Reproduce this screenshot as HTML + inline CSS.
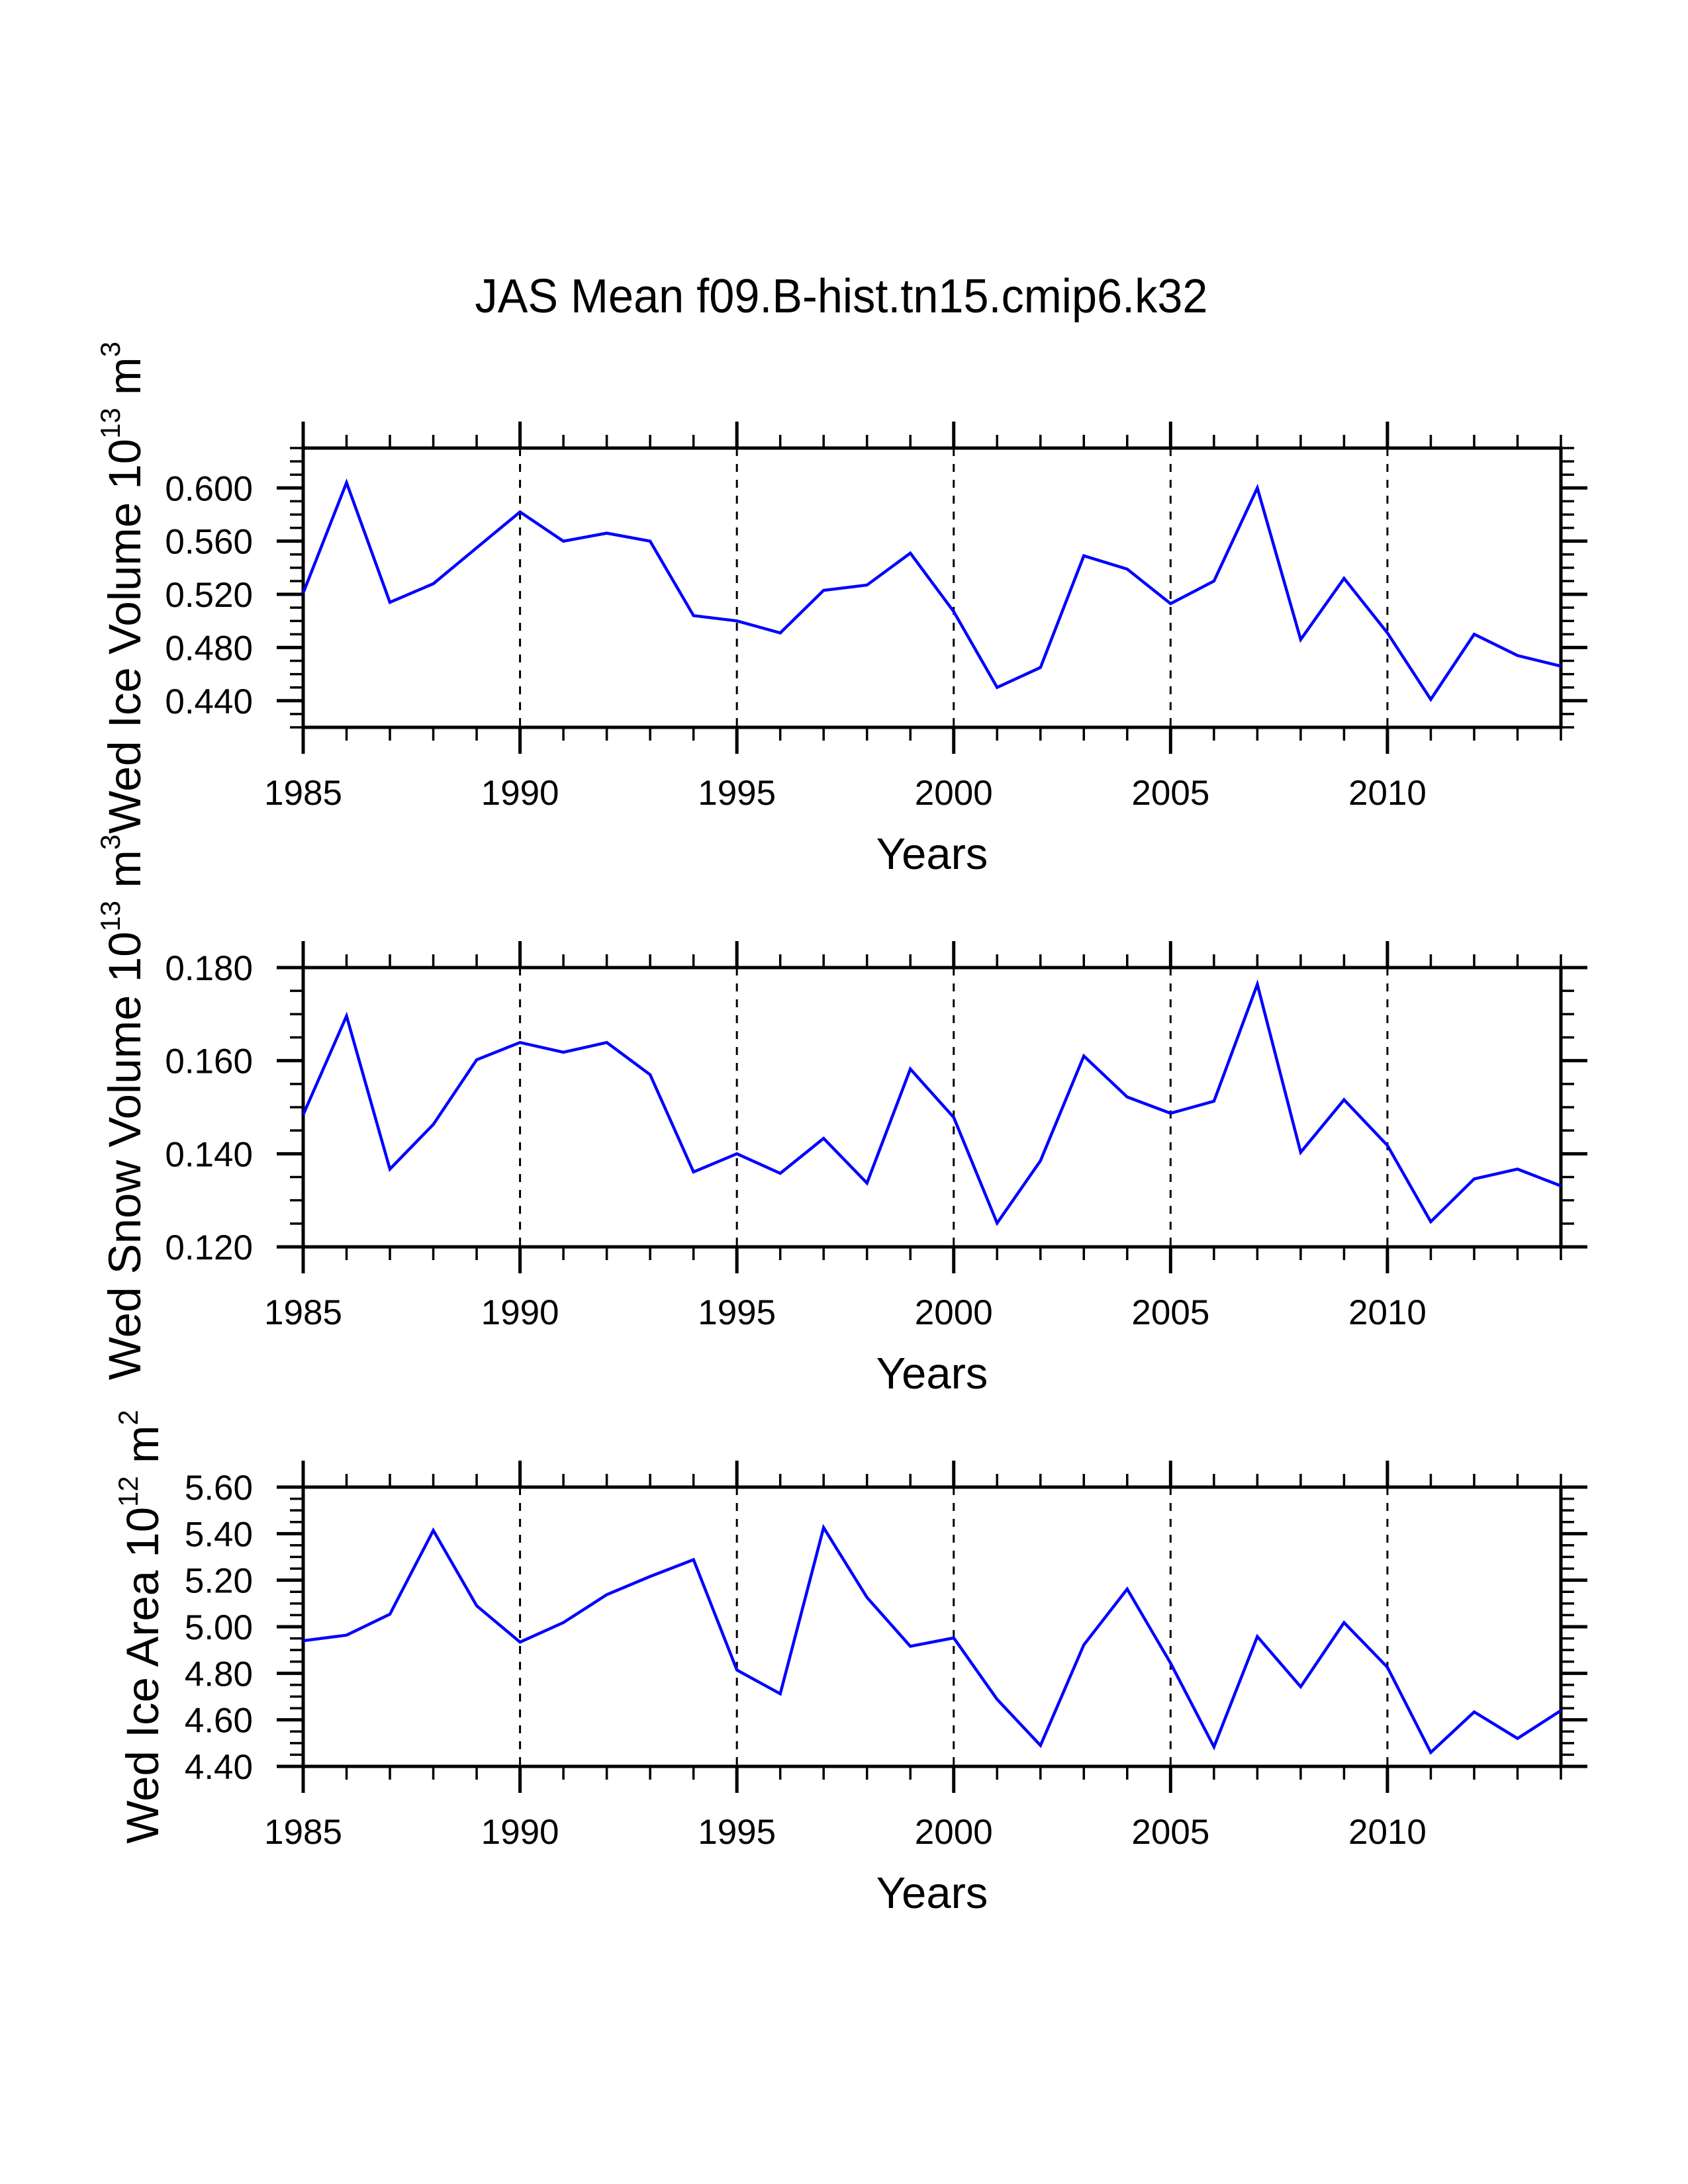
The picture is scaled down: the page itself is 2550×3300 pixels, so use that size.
<!DOCTYPE html>
<html><head><meta charset="utf-8"><title>JAS Mean f09.B-hist.tn15.cmip6.k32</title>
<style>html,body{margin:0;padding:0;background:#fff}svg{display:block}text{font-family:"Liberation Sans",Arial,sans-serif;fill:#000}</style>
</head><body>
<svg id="chart" xmlns="http://www.w3.org/2000/svg" width="2550" height="3300" viewBox="0 0 2550 3300">
<rect width="2550" height="3300" fill="#fff"/>
<text x="1271" y="472" font-size="72" text-anchor="middle" textLength="1107" lengthAdjust="spacingAndGlyphs">JAS Mean f09.B-hist.tn15.cmip6.k32</text>
</svg>
<script>
const years = [1985,1986,1987,1988,1989,1990,1991,1992,1993,1994,1995,1996,1997,1998,1999,2000,2001,2002,2003,2004,2005,2006,2007,2008,2009,2010,2011,2012,2013,2014];
const iceVolume = [0.521,0.604,0.514,0.528,0.555,0.582,0.560,0.566,0.560,0.504,0.500,0.491,0.523,0.527,0.551,0.507,0.450,0.465,0.549,0.539,0.513,0.530,0.600,0.486,0.532,0.491,0.441,0.490,0.474,0.466];
const snowVolume = [0.1484,0.1696,0.1367,0.1463,0.1602,0.1639,0.1618,0.1639,0.1570,0.1361,0.1400,0.1358,0.1433,0.1337,0.1582,0.1478,0.1251,0.1385,0.1610,0.1522,0.1487,0.1513,0.1764,0.1403,0.1516,0.1418,0.1254,0.1346,0.1367,0.1331];
const iceArea = [4.94,4.964,5.054,5.414,5.09,4.934,5.018,5.138,5.216,5.288,4.814,4.712,5.426,5.126,4.916,4.952,4.688,4.49,4.922,5.162,4.844,4.484,4.958,4.742,5.018,4.826,4.46,4.634,4.52,4.64];
const xTickLabels = ["1985","1990","1995","2000","2005","2010"];
const iceVolumeTicks = ["0.440","0.480","0.520","0.560","0.600"];
const snowVolumeTicks = ["0.120","0.140","0.160","0.180"];
const iceAreaTicks = ["4.40","4.60","4.80","5.00","5.20","5.40","5.60"];

const NS = "http://www.w3.org/2000/svg";
const svg = document.getElementById('chart');
function mk(tag, attrs, parent) {
  const e = document.createElementNS(NS, tag);
  for (const k in attrs) e.setAttribute(k, attrs[k]);
  (parent || svg).appendChild(e);
  return e;
}
const L = 458, R = 2358, H = 422;
const xMin = 1985, xMax = 2014;
function xs(v) { return L + (v - xMin) / (xMax - xMin) * (R - L); }

const panels = [
  {key:'ice-volume', top:677, min:0.42, max:0.63, minor:0.01, ticks:iceVolumeTicks, data:iceVolume,
   title:['Wed Ice Volume 10','13',' m','3'], center:888, tx:212},
  {key:'snow-volume', top:1462, min:0.12, max:0.18, minor:0.005, ticks:snowVolumeTicks, data:snowVolume,
   title:['Wed Snow Volume 10','13',' m','3'], center:1673, tx:212},
  {key:'ice-area', top:2247, min:4.40, max:5.60, minor:0.05, ticks:iceAreaTicks, data:iceArea,
   title:['Wed Ice Area 10','12',' m','2'], center:2458, tx:239}
];

panels.forEach(p => {
  const T = p.top, B = p.top + H;
  const ys = v => B - (v - p.min) / (p.max - p.min) * H;
  const g = mk('g', {});
  
  

  xTickLabels.forEach(lbl => {
    const yr = +lbl;
    if (yr === xMin) return;
    const ln = mk('line', {x1:xs(yr), x2:xs(yr), y1:T, y2:B, stroke:'#000', 'stroke-width':3, 'stroke-dasharray':'12 12'}, g);
    
    
  });

  for (let yr = xMin; yr <= xMax; yr++) {
    const major = (yr % 5 === 0);
    const len = major ? 40 : 20;
    const sw = major ? 5 : 3.5;
    const t1 = mk('line', {x1:xs(yr), x2:xs(yr), y1:T, y2:T - len, stroke:'#000', 'stroke-width':sw}, g);
    
    
    const t2 = mk('line', {x1:xs(yr), x2:xs(yr), y1:B, y2:B + len, stroke:'#000', 'stroke-width':sw}, g);
    
    
  }
  xTickLabels.forEach(lbl => {
    const t = mk('text', {x:xs(+lbl), y:B + 117, 'font-size':53, 'text-anchor':'middle'}, g);
    t.textContent = lbl;
    
    
  });

  const nMinor = Math.round((p.max - p.min) / p.minor);
  const majorVals = p.ticks.map(Number);
  for (let i = 0; i <= nMinor; i++) {
    const v = p.min + i * p.minor;
    const isMajor = majorVals.some(m => Math.abs(m - v) < p.minor / 10);
    const len = isMajor ? 40 : 20;
    const sw = isMajor ? 5 : 3.5;
    const y = ys(v);
    const a = mk('line', {x1:L, x2:L - len, y1:y, y2:y, stroke:'#000', 'stroke-width':sw}, g);
    
    
    const b = mk('line', {x1:R, x2:R + len, y1:y, y2:y, stroke:'#000', 'stroke-width':sw}, g);
    
    
  }
  p.ticks.forEach(lbl => {
    const t = mk('text', {x:382, y:ys(+lbl) + 19, 'font-size':53, 'text-anchor':'end'}, g);
    t.textContent = lbl;
    
    
  });

  const fr = mk('rect', {x:L, y:T, width:R - L, height:H, fill:'none', stroke:'#000', 'stroke-width':5}, g);
  
  

  const pts = p.data.map((v, i) => xs(years[i]).toFixed(1) + ',' + ys(v).toFixed(1)).join(' ');
  const pl = mk('polyline', {points:pts, fill:'none', stroke:'#0000ff', 'stroke-width':4.5, 'stroke-linejoin':'miter'}, g);
  
  

  const xt = mk('text', {x:(L + R) / 2, y:B + 214, 'font-size':67, 'text-anchor':'middle'}, g);
  xt.textContent = 'Years';
  
  

  const yt = mk('text', {x:0, y:0, 'font-size':69, 'text-anchor':'middle', transform:'translate(' + p.tx + ',' + p.center + ') rotate(-90)'}, g);
  
  
  const s1 = mk('tspan', {}, yt); s1.textContent = p.title[0];
  const s2 = mk('tspan', {'font-size':42, dy:-31}, yt); s2.textContent = p.title[1];
  const s3 = mk('tspan', {dy:31}, yt); s3.textContent = p.title[2];
  const s4 = mk('tspan', {'font-size':42, dy:-31}, yt); s4.textContent = p.title[3];
});
</script>
</body></html>
